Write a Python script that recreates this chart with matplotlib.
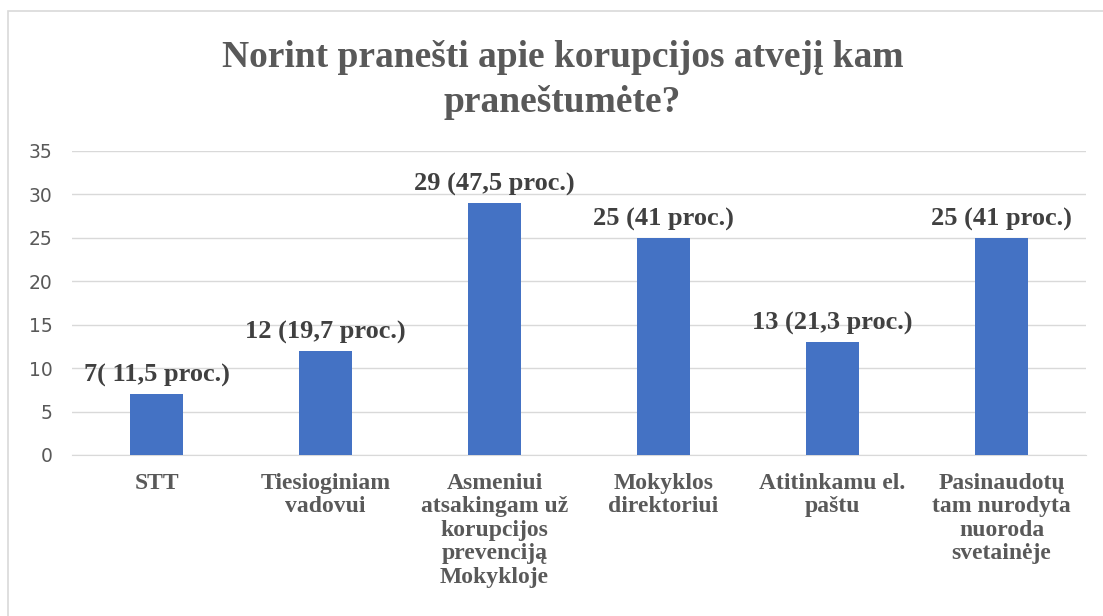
import matplotlib.pyplot as plt
from matplotlib.patches import Rectangle

categories = ["STT", "Tiesioginiam\nvadovui",
              "Asmeniui\natsakingam už\nkorupcijos\nprevenciją\nMokykloje",
              "Mokyklos\ndirektoriui", "Atitinkamu el.\npaštu",
              "Pasinaudotų\ntam nurodyta\nnuoroda\nsvetainėje"]
counts = [7, 12, 29, 25, 13, 25]
labels = ["7( 11,5 proc.)", "12 (19,7 proc.)", "29 (47,5 proc.)",
          "25 (41 proc.)", "13 (21,3 proc.)", "25 (41 proc.)"]

serif = "Liberation Serif"
grey = "#595959"

fig = plt.figure(figsize=(11.03, 6.16), dpi=100)
fig.patches.append(Rectangle((0.007, -0.05), 1.1, 1.032, transform=fig.transFigure,
                             fill=False, edgecolor="#d9d9d9", linewidth=1.2))
ax = fig.add_axes([72 / 1103, 1 - 455 / 616, 1014 / 1103, 304 / 616])

x = range(len(categories))
ax.bar(x, counts, width=0.31, color="#4472C4", zorder=3)
for i, (v, lab) in enumerate(zip(counts, labels)):
    ax.annotate(lab, (i, v), xytext=(0, 5), textcoords="offset points",
                ha="center", va="bottom", fontsize=19, fontweight="bold",
                family=serif, color="#404040")

ax.set_xlim(-0.5, len(categories) - 0.5)
ax.set_ylim(0, 35)
ax.set_yticks(range(0, 36, 5))
ax.yaxis.grid(True, color="#d9d9d9", linewidth=1)
ax.set_axisbelow(True)
for s in ["top", "right", "left"]:
    ax.spines[s].set_visible(False)
ax.spines["bottom"].set_color("#d9d9d9")
ax.tick_params(axis="both", length=0)
ax.tick_params(axis="y", labelsize=13.5, labelcolor=grey, pad=14)
ax.set_xticks(list(x))
ax.set_xticklabels(categories, family=serif, fontweight="bold", fontsize=17,
                   color=grey, linespacing=1.15)
ax.tick_params(axis="x", pad=13)

fig.text(0.51, 1 - 80 / 616, "Norint pranešti apie korupcijos atvejį kam\npraneštumėte?",
         ha="center", va="center", family=serif, fontweight="bold", fontsize=27,
         color=grey, linespacing=1.4)

fig.savefig("out.png", dpi=100)
